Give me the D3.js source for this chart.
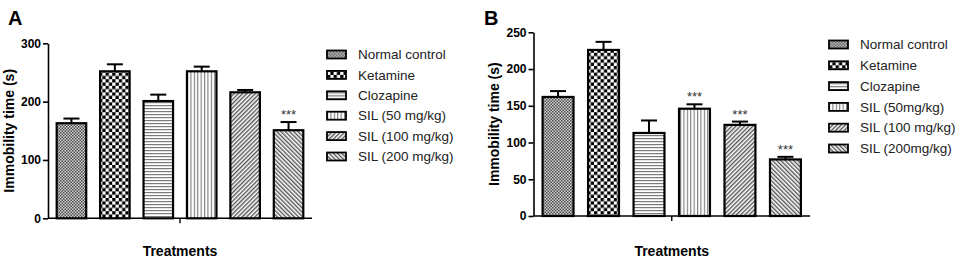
<!DOCTYPE html>
<html>
<head>
<meta charset="utf-8">
<script src="https://cdn.jsdelivr.net/npm/d3@7"></script>
<style>
  body { margin: 0; background: #fff; }
  svg { font-family: "Liberation Sans", Arial, sans-serif; }
</style>
</head>
<body>
<div id="chart"></div>
<script>
const groupsA = ["Normal control", "Ketamine", "Clozapine", "SIL (50 mg/kg)", "SIL (100 mg/kg)", "SIL (200 mg/kg)"];
const valuesA = [163, 252, 201, 252, 216, 151];
const errorsA = [8, 12, 11, 8, 4, 14];
const starsA = ["", "", "", "", "", "***"];
const ticksA = [0, 100, 200, 300];

const groupsB = ["Normal control", "Ketamine", "Clozapine", "SIL (50mg/kg)", "SIL (100 mg/kg)", "SIL (200mg/kg)"];
const valuesB = [162, 226, 113, 146, 124, 77];
const errorsB = [8, 11, 17, 6, 4.5, 3.5];
const starsB = ["", "", "", "***", "***", "***"];
const ticksB = [0, 50, 100, 150, 200, 250];

const patternIds = ["p-normal", "p-keta", "p-cloz", "p-sil50", "p-sil100", "p-sil200"];

const svg = d3.select("#chart").append("svg")
  .attr("width", 969).attr("height", 260);

// hatch patterns
const defs = svg.append("defs");

let p = defs.append("pattern").attr("id", "p-normal").attr("patternUnits", "userSpaceOnUse")
  .attr("width", 3).attr("height", 3);
p.append("rect").attr("width", 3).attr("height", 3).attr("fill", "#d4d4d4");
p.append("rect").attr("width", 1.5).attr("height", 1.5).attr("fill", "#4a4a4a");
p.append("rect").attr("x", 1.5).attr("y", 1.5).attr("width", 1.5).attr("height", 1.5).attr("fill", "#4a4a4a");

p = defs.append("pattern").attr("id", "p-keta").attr("patternUnits", "userSpaceOnUse")
  .attr("width", 6.6).attr("height", 6.6);
p.append("rect").attr("width", 6.6).attr("height", 6.6).attr("fill", "#fff");
p.append("rect").attr("width", 3.3).attr("height", 3.3).attr("fill", "#000");
p.append("rect").attr("x", 3.3).attr("y", 3.3).attr("width", 3.3).attr("height", 3.3).attr("fill", "#000");

p = defs.append("pattern").attr("id", "p-cloz").attr("patternUnits", "userSpaceOnUse")
  .attr("width", 6).attr("height", 3);
p.append("rect").attr("width", 6).attr("height", 3).attr("fill", "#fff");
p.append("rect").attr("width", 6).attr("height", 1.2).attr("fill", "#7a7a7a");

p = defs.append("pattern").attr("id", "p-sil50").attr("patternUnits", "userSpaceOnUse")
  .attr("width", 3.4).attr("height", 6);
p.append("rect").attr("width", 3.4).attr("height", 6).attr("fill", "#fff");
p.append("rect").attr("width", 1.1).attr("height", 6).attr("fill", "#7a7a7a");

p = defs.append("pattern").attr("id", "p-sil100").attr("patternUnits", "userSpaceOnUse")
  .attr("width", 3).attr("height", 3).attr("patternTransform", "rotate(45)");
p.append("rect").attr("width", 3).attr("height", 3).attr("fill", "#fff");
p.append("rect").attr("width", 1.4).attr("height", 3).attr("fill", "#555");

p = defs.append("pattern").attr("id", "p-sil200").attr("patternUnits", "userSpaceOnUse")
  .attr("width", 3).attr("height", 3).attr("patternTransform", "rotate(-45)");
p.append("rect").attr("width", 3).attr("height", 3).attr("fill", "#fff");
p.append("rect").attr("width", 1.4).attr("height", 3).attr("fill", "#555");

function drawPanel(cfg) {
  const g = svg.append("g");
  const x = d3.scaleBand().domain(cfg.groups).range([cfg.x0, cfg.x1])
    .paddingInner(0.32).paddingOuter(0.2);
  const y = d3.scaleLinear().domain([0, cfg.max]).range([cfg.y0, cfg.y1]);

  // panel letter
  g.append("text").attr("x", cfg.letterX).attr("y", 25)
    .attr("font-size", 20).attr("font-weight", "bold").text(cfg.letter);

  // y axis
  const ya = g.append("g").attr("transform", `translate(${cfg.x0},0)`)
    .call(d3.axisLeft(y).tickValues(cfg.ticks).tickSize(5).tickPadding(2).tickSizeOuter(0));
  ya.select(".domain").attr("stroke-width", 1.6);
  ya.selectAll(".tick line").attr("stroke-width", 1.6);
  ya.selectAll("text").attr("font-size", 12).attr("font-weight", "bold")
    .attr("font-family", "Liberation Sans, Arial, sans-serif").attr("fill", "#000");

  // x axis line and centre tick
  const cx = (cfg.x0 + cfg.x1) / 2;
  g.append("line").attr("x1", cfg.x0).attr("x2", cfg.x1)
    .attr("y1", cfg.y0).attr("y2", cfg.y0).attr("stroke", "#000").attr("stroke-width", 1.6);
  g.append("line").attr("x1", cx).attr("x2", cx)
    .attr("y1", cfg.y0).attr("y2", cfg.y0 + 5).attr("stroke", "#000").attr("stroke-width", 1.4);

  // axis titles
  g.append("text").attr("x", cx).attr("y", 256).attr("text-anchor", "middle")
    .attr("font-size", 14).attr("font-weight", "bold").text("Treatments");
  g.append("text")
    .attr("transform", `translate(${cfg.titleX},${(cfg.y0 + cfg.y1) / 2}) rotate(-90)`)
    .attr("text-anchor", "middle").attr("font-size", 14).attr("font-weight", "bold")
    .text("Immobility time (s)");

  const data = cfg.groups.map((k, i) => ({ k, v: cfg.values[i], e: cfg.errors[i], s: cfg.stars[i], pat: patternIds[i] }));

  // error bars
  const eb = g.selectAll(".err").data(data).enter().append("g");
  eb.append("line")
    .attr("x1", d => x(d.k) + x.bandwidth() / 2).attr("x2", d => x(d.k) + x.bandwidth() / 2)
    .attr("y1", d => y(d.v)).attr("y2", d => y(d.v + d.e))
    .attr("stroke", "#000").attr("stroke-width", 2);
  eb.append("line")
    .attr("x1", d => x(d.k) + x.bandwidth() / 2 - 8).attr("x2", d => x(d.k) + x.bandwidth() / 2 + 8)
    .attr("y1", d => y(d.v + d.e)).attr("y2", d => y(d.v + d.e))
    .attr("stroke", "#000").attr("stroke-width", 2);

  // bars
  g.selectAll(".bar").data(data).enter().append("rect")
    .attr("x", d => x(d.k)).attr("width", x.bandwidth())
    .attr("y", d => y(d.v)).attr("height", d => cfg.y0 - y(d.v))
    .attr("fill", d => `url(#${d.pat})`)
    .attr("stroke", "#000").attr("stroke-width", 2.2);

  // significance stars
  g.selectAll(".star").data(data.filter(d => d.s)).enter().append("text")
    .attr("x", d => x(d.k) + x.bandwidth() / 2).attr("y", d => y(d.v + d.e) - 3)
    .attr("text-anchor", "middle").attr("font-size", 13).attr("fill", "#333")
    .text(d => d.s);

  // legend
  const lg = g.append("g").attr("transform", `translate(${cfg.legX},${cfg.legY})`);
  const rows = lg.selectAll("g").data(data).enter().append("g")
    .attr("transform", (d, i) => `translate(0,${i * cfg.legStep})`);
  rows.append("rect").attr("x", 0).attr("y", -4).attr("width", 19).attr("height", 8)
    .attr("fill", d => `url(#${d.pat})`).attr("stroke", "#000").attr("stroke-width", 1.8);
  rows.append("text").attr("x", cfg.legTextDx).attr("y", 0).attr("dy", "0.35em")
    .attr("font-size", 13.5).attr("fill", "#222").text(d => d.k);
}

drawPanel({
  letter: "A", letterX: 8, groups: groupsA, values: valuesA, errors: errorsA, stars: starsA,
  ticks: ticksA, max: 300, x0: 48, x1: 312, y0: 218.3, y1: 43.3, titleX: 14,
  legX: 327, legY: 54.5, legStep: 20.4, legTextDx: 31
});
drawPanel({
  letter: "B", letterX: 484, groups: groupsB, values: valuesB, errors: errorsB, stars: starsB,
  ticks: ticksB, max: 250, x0: 533.5, x1: 810, y0: 216, y1: 32.3, titleX: 499,
  legX: 829, legY: 44.5, legStep: 20.8, legTextDx: 31
});
</script>
</body>
</html>
